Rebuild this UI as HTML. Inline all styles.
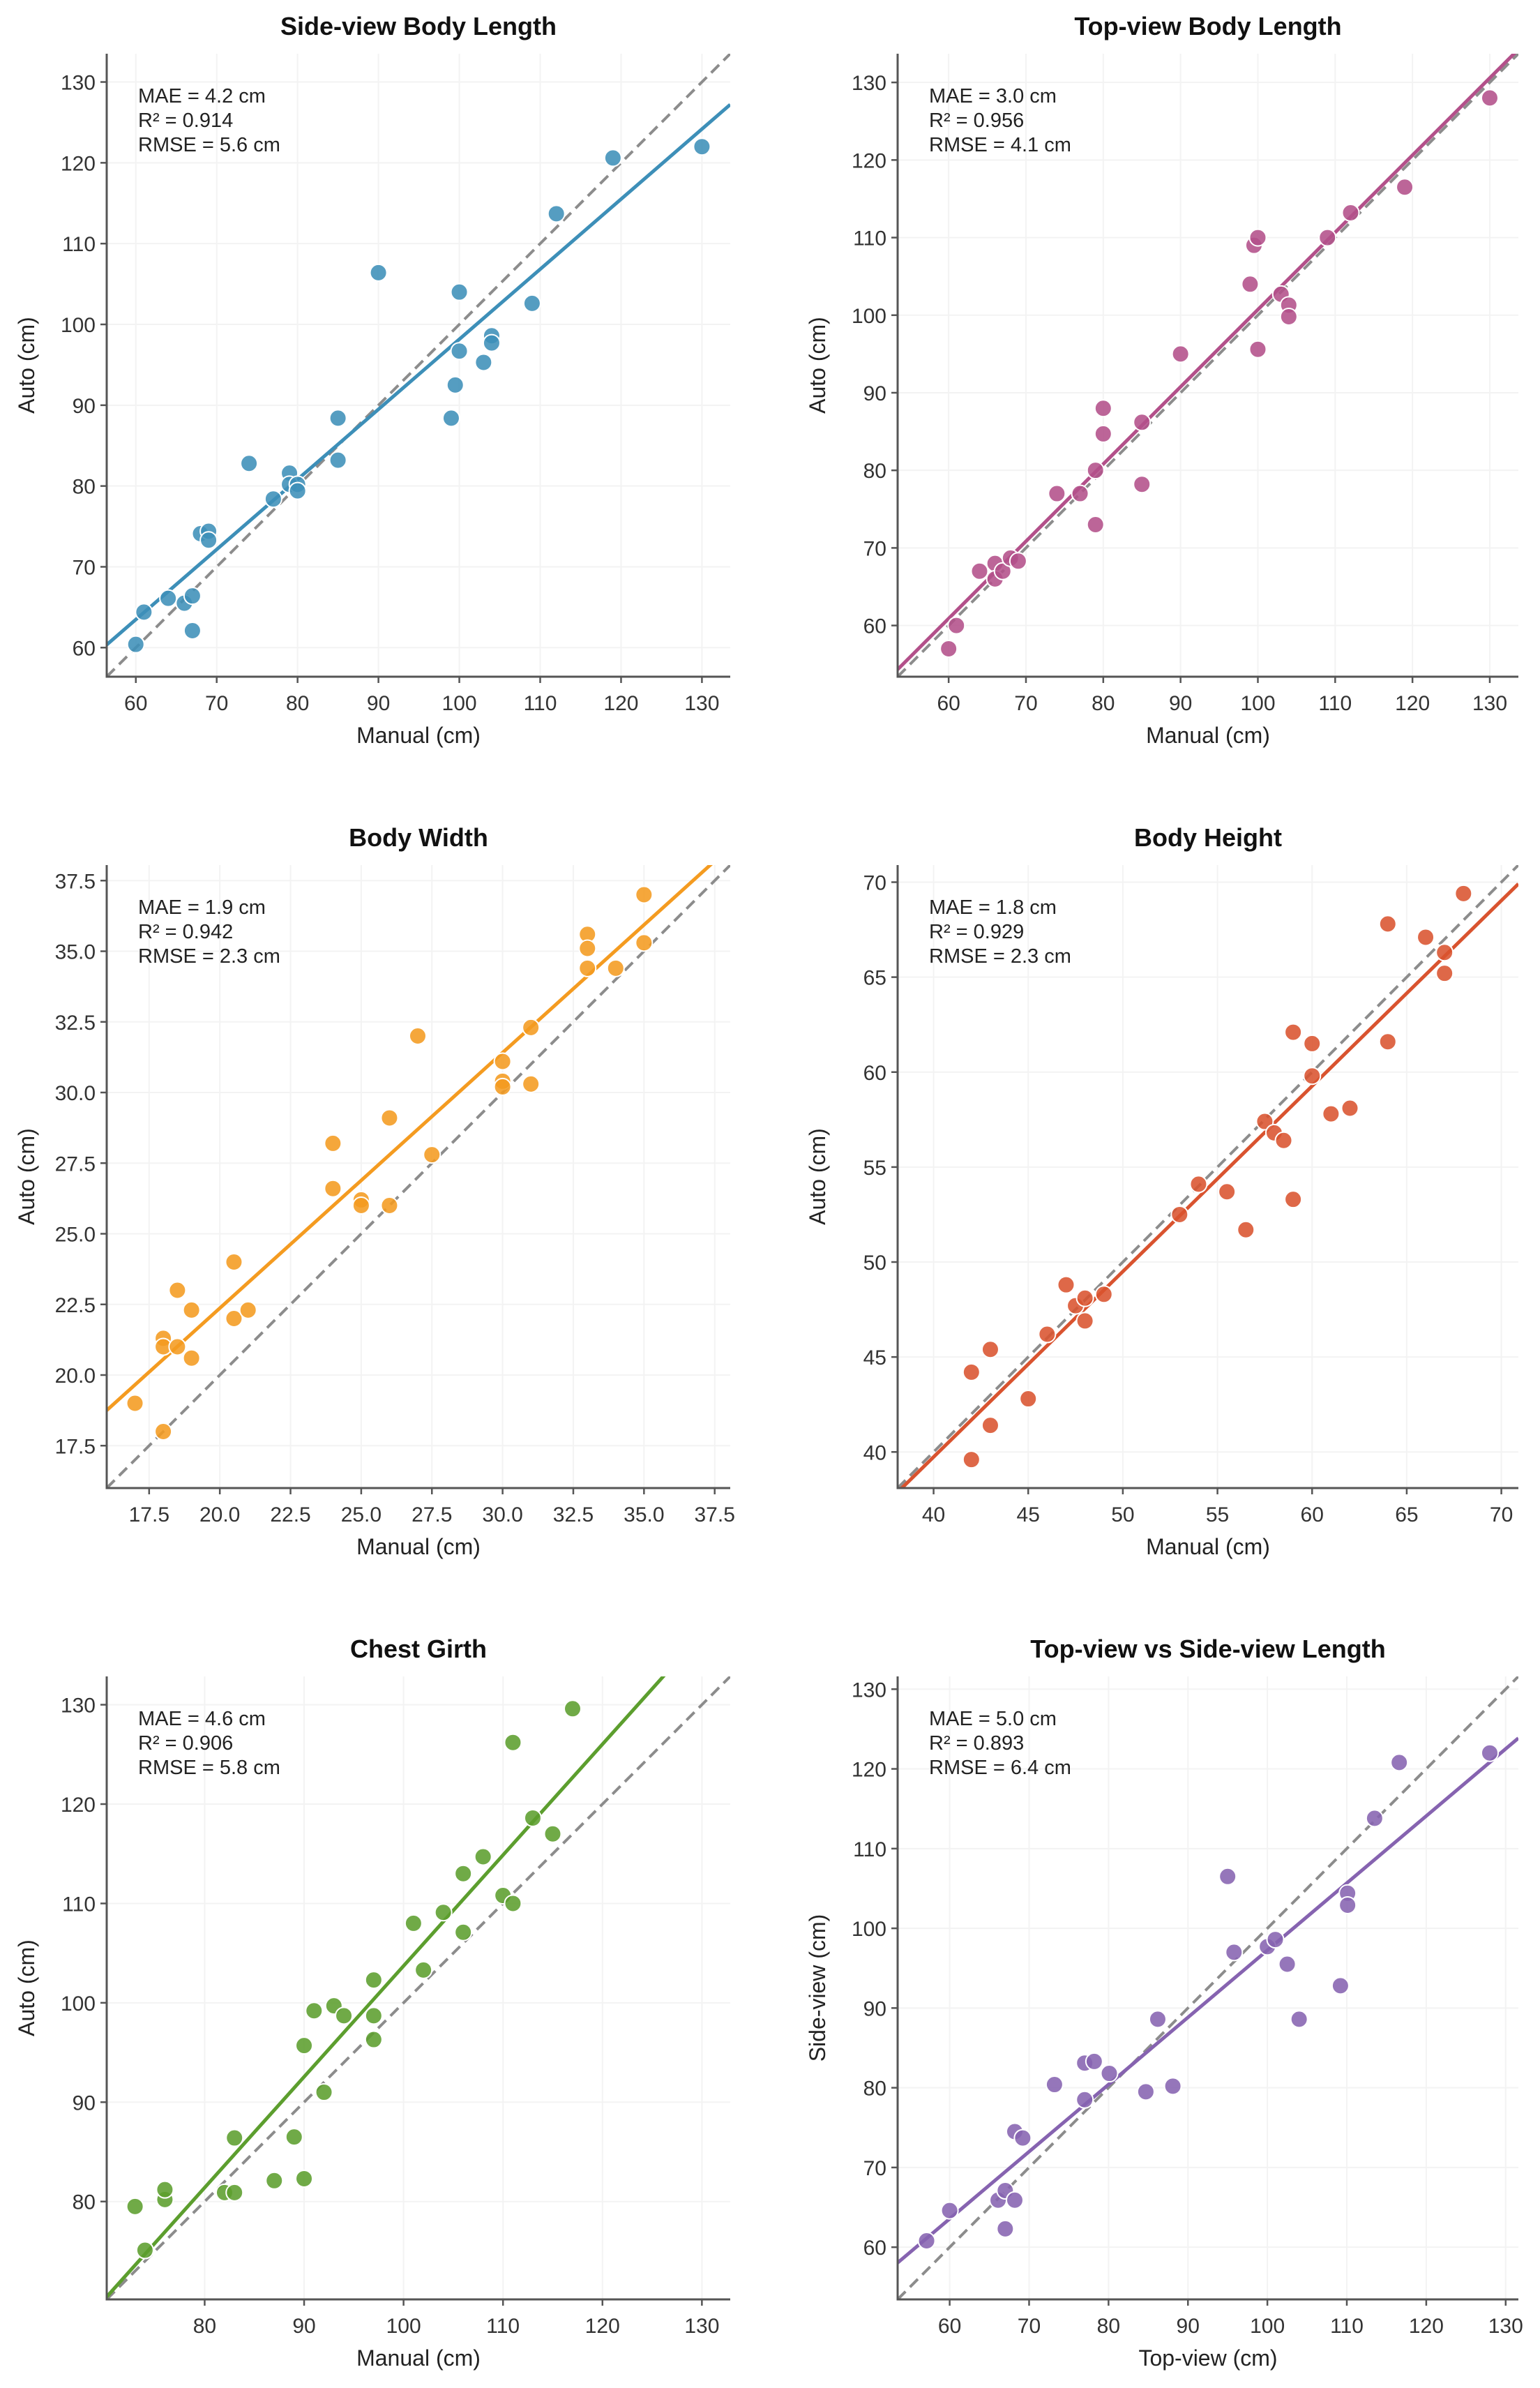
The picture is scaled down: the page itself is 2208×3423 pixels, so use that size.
<!DOCTYPE html>
<html><head><meta charset="utf-8">
<style>
html,body{margin:0;padding:0;background:#fff;}
svg{display:block;font-family:"Liberation Sans",Arial,sans-serif;}
</style></head>
<body>
<svg id="fig" width="2208" height="3423" viewBox="0 0 2208 3423" xmlns="http://www.w3.org/2000/svg"></svg>
<script>
// ---- Panel 1: Side-view Body Length ----
const p1x = [60,61,64,66,67,67,68,69,69,74,77,79,79,80,80,85,85,90,99,99.5,100,100,103,104,104,109,112,119,130];
const p1y = [60.4,64.4,66.1,65.5,66.4,62.1,74.1,74.4,73.3,82.8,78.4,81.6,80.2,80.2,79.4,88.4,83.2,106.4,88.4,92.5,96.7,104.0,95.3,98.6,97.7,102.6,113.7,120.6,122.0];
const p1ticks = [60,70,80,90,100,110,120,130];
// ---- Panel 2: Top-view Body Length ----
const p2x = [60,61,64,66,66,67,68,69,74,77,79,79,80,80,85,85,90,99,99.5,100,100,103,104,104,109,112,119,130];
const p2y = [57,60,67,68,66,67,68.7,68.3,77,77,80,73,84.7,88,86.2,78.2,95,104,109,110,95.6,102.7,101.3,99.8,110,113.2,116.5,128];
const p2ticks = [60,70,80,90,100,110,120,130];
// ---- Panel 3: Body Width ----
const p3x = [17,18,18,18,18.5,18.5,19,19,20.5,20.5,21,24,24,25,25,26,26,27,27.5,30,30,30,31,31,33,33,33,34,35,35];
const p3y = [19.0,21.3,21.0,18.0,23.0,21.0,22.3,20.6,24.0,22.0,22.3,28.2,26.6,26.2,26.0,29.1,26.0,32.0,27.8,31.1,30.4,30.2,32.3,30.3,35.6,35.1,34.4,34.4,37.0,35.3];
const p3ticks = [17.5,20.0,22.5,25.0,27.5,30.0,32.5,35.0,37.5];
// ---- Panel 4: Body Height ----
const p4x = [42,42,43,43,45,46,47,47.5,48,48,49,53,54,55.5,56.5,57.5,58,58.5,59,59,60,60,61,62,64,64,66,67,67,68];
const p4y = [44.2,39.6,45.4,41.4,42.8,46.2,48.8,47.7,48.1,46.9,48.3,52.5,54.1,53.7,51.7,57.4,56.8,56.4,62.1,53.3,61.5,59.8,57.8,58.1,67.8,61.6,67.1,66.3,65.2,69.4];
const p4ticks = [40,45,50,55,60,65,70];
// ---- Panel 5: Chest Girth ----
const p5x = [73,74,76,76,82,83,83,87,89,90,90,91,92,93,94,97,97,97,101,102,104,106,106,108,110,111,111,113,115,117];
const p5y = [79.5,75.1,80.2,81.2,80.9,80.9,86.4,82.1,86.5,82.3,95.7,99.2,91.0,99.7,98.7,102.3,98.7,96.3,108.0,103.3,109.1,113.0,107.1,114.7,110.8,110.0,126.2,118.6,117.0,129.6];
const p5ticks = [80,90,100,110,120,130];
// ---- Panel 6: Top-view vs Side-view Length ----
const p6x = [57.1,60,66.1,67,68.2,67,68.2,69.2,73.2,77,78.2,77,80.1,84.7,86.2,88.1,95,95.8,100,101,102.5,104,109.2,110.1,110.1,113.5,116.6,128];
const p6y = [60.8,64.6,65.9,67.1,65.9,62.3,74.5,73.7,80.4,83.1,83.3,78.5,81.8,79.5,88.6,80.2,106.5,97.0,97.7,98.6,95.5,88.6,92.8,104.4,102.9,113.8,120.8,122.0];
const p6ticks = [60,70,80,90,100,110,120,130];

const panels = [
 {name:'side-view-body-length',title:'Side-view Body Length',xs:p1x,ys:p1y,ticks:p1ticks,lim:[56.4,133.5],color:'#3d8fb8',ann:['MAE = 4.2 cm','R² = 0.914','RMSE = 5.6 cm'],xl:'Manual (cm)',yl:'Auto (cm)',L:153,T:77,W:894,dec:0},
 {name:'top-view-body-length',title:'Top-view Body Length',xs:p2x,ys:p2y,ticks:p2ticks,lim:[53.4,133.7],color:'#b3508a',ann:['MAE = 3.0 cm','R² = 0.956','RMSE = 4.1 cm'],xl:'Manual (cm)',yl:'Auto (cm)',L:1287,T:77,W:890,dec:0},
 {name:'body-width',title:'Body Width',xs:p3x,ys:p3y,ticks:p3ticks,lim:[16,38.05],color:'#f49b20',ann:['MAE = 1.9 cm','R² = 0.942','RMSE = 2.3 cm'],xl:'Manual (cm)',yl:'Auto (cm)',L:153,T:1240,W:894,dec:1},
 {name:'body-height',title:'Body Height',xs:p4x,ys:p4y,ticks:p4ticks,lim:[38.1,70.9],color:'#d9532f',ann:['MAE = 1.8 cm','R² = 0.929','RMSE = 2.3 cm'],xl:'Manual (cm)',yl:'Auto (cm)',L:1287,T:1240,W:890,dec:0},
 {name:'chest-girth',title:'Chest Girth',xs:p5x,ys:p5y,ticks:p5ticks,lim:[70.15,132.85],color:'#5c9e2e',ann:['MAE = 4.6 cm','R² = 0.906','RMSE = 5.8 cm'],xl:'Manual (cm)',yl:'Auto (cm)',L:153,T:2403,W:894,dec:0},
 {name:'top-vs-side-length',title:'Top-view vs Side-view Length',xs:p6x,ys:p6y,ticks:p6ticks,lim:[53.45,131.6],color:'#8663b0',ann:['MAE = 5.0 cm','R² = 0.893','RMSE = 6.4 cm'],xl:'Top-view (cm)',yl:'Side-view (cm)',L:1287,T:2403,W:890,dec:0}
];
const H = 893;
const NS = 'http://www.w3.org/2000/svg';
const svg = document.getElementById('fig');
function mk(tag, attrs, parent){
  const e = document.createElementNS(NS, tag);
  for (const k in attrs) e.setAttribute(k, attrs[k]);
  (parent||svg).appendChild(e);
  return e;
}
panels.forEach((p, idx) => {
  const g = mk('g', {});
  
  
  const L=p.L, T=p.T, W=p.W, B=T+H, R=L+W;
  const sx = v => L + (v - p.lim[0]) / (p.lim[1]-p.lim[0]) * W;
  const sy = v => B - (v - p.lim[0]) / (p.lim[1]-p.lim[0]) * H;
  const cid = 'clip'+idx;
  const cp = mk('clipPath', {id:cid}, g);
  mk('rect', {x:L, y:T, width:W, height:H}, cp);
  p.ticks.forEach(t => {
    const gx = mk('line', {x1:sx(t), x2:sx(t), y1:T, y2:B, stroke:'#f3f3f3', 'stroke-width':2}, g);
    
    
    const gy = mk('line', {x1:L, x2:R, y1:sy(t), y2:sy(t), stroke:'#f3f3f3', 'stroke-width':2}, g);
    
    
  });
  const plot = mk('g', {'clip-path':'url(#'+cid+')'}, g);
  const id = mk('line', {x1:sx(p.lim[0]), y1:sy(p.lim[0]), x2:sx(p.lim[1]), y2:sy(p.lim[1]), stroke:'#8c8c8c', 'stroke-width':4, 'stroke-dasharray':'16,9'}, plot);
  
  
  const n = p.xs.length;
  const mx = p.xs.reduce((a,b)=>a+b,0)/n, my = p.ys.reduce((a,b)=>a+b,0)/n;
  let sxy=0, sxx=0;
  for (let i=0;i<n;i++){ sxy += (p.xs[i]-mx)*(p.ys[i]-my); sxx += (p.xs[i]-mx)**2; }
  const slope = sxy/sxx, icpt = my - slope*mx;
  const fl = mk('line', {x1:sx(p.lim[0]), y1:sy(icpt+slope*p.lim[0]), x2:sx(p.lim[1]), y2:sy(icpt+slope*p.lim[1]), stroke:p.color, 'stroke-width':5}, plot);
  
  
  for (let i=0;i<n;i++){
    const c = mk('circle', {cx:sx(p.xs[i]), cy:sy(p.ys[i]), r:12, fill:p.color, 'fill-opacity':0.88, stroke:'#fff', 'stroke-width':2}, plot);
    
    
  }
  const sp = mk('path', {d:`M${L},${T} L${L},${B} L${R},${B}`, fill:'none', stroke:'#555', 'stroke-width':3}, g);
  
  
  p.ticks.forEach(t => {
    const lab = p.dec ? t.toFixed(1) : String(t);
    mk('line', {x1:sx(t), x2:sx(t), y1:B, y2:B+9, stroke:'#555', 'stroke-width':2.5}, g);
    const xt = mk('text', {x:sx(t), y:B+48, 'text-anchor':'middle', 'font-size':30, fill:'#333'}, g);
    xt.textContent = lab;
    
    
    mk('line', {x1:L-9, x2:L, y1:sy(t), y2:sy(t), stroke:'#555', 'stroke-width':2.5}, g);
    const yt = mk('text', {x:L-16, y:sy(t)+11, 'text-anchor':'end', 'font-size':30, fill:'#333'}, g);
    yt.textContent = lab;
    
    
  });
  const tt = mk('text', {x:L+W/2, y:T-27, 'text-anchor':'middle', 'font-size':36, 'font-weight':'bold', fill:'#111'}, g);
  tt.textContent = p.title;
  
  
  const xl = mk('text', {x:L+W/2, y:B+95, 'text-anchor':'middle', 'font-size':32, fill:'#222'}, g);
  xl.textContent = p.xl;
  
  
  const ycx = L-104, ycy = T+H/2;
  const yl = mk('text', {x:ycx, y:ycy, 'text-anchor':'middle', 'font-size':32, fill:'#222', transform:`rotate(-90 ${ycx} ${ycy})`}, g);
  yl.textContent = p.yl;
  
  
  p.ann.forEach((s, k) => {
    const a = mk('text', {x:L+45, y:T+70+k*35, 'font-size':29, fill:'#222'}, g);
    a.textContent = s;
    
    
  });
});
</script>
</body></html>
